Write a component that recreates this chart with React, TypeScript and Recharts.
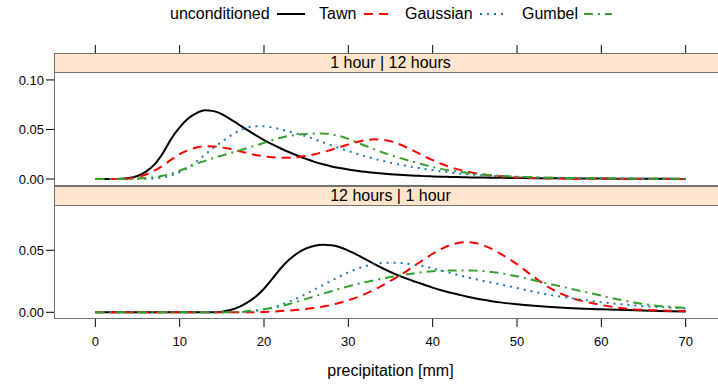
import React from 'react';
import { LineChart, Line, XAxis, YAxis, Label } from 'recharts';

// x grid (mm), shared by every curve
const xs = [
  0, 1, 2, 3, 4, 5, 6, 7, 8, 9, 10, 11, 12, 13, 14, 15, 16, 17, 18, 19, 20,
  21, 22, 23, 24, 25, 26, 27, 28, 29, 30, 31, 32, 33, 34, 35, 36, 37, 38, 39, 40,
  41, 42, 43, 44, 45, 46, 47, 48, 49, 50, 52, 54, 56, 58, 60, 62, 64, 66, 68, 70,
];

// panel "1 hour | 12 hours"
const topUncond = [
  0, 0, 0, 0.0002, 0.001, 0.003, 0.0075, 0.0145, 0.026, 0.0405, 0.052,
  0.061, 0.0665, 0.0693, 0.0685, 0.0655, 0.0605, 0.055, 0.0495, 0.0442, 0.0393,
  0.0349, 0.0308, 0.027, 0.0235, 0.0203, 0.0173, 0.0148, 0.0127, 0.011, 0.0095,
  0.0083, 0.0072, 0.0063, 0.0055, 0.0048, 0.0042, 0.0037, 0.0033, 0.0029, 0.0026,
  0.0023, 0.0021, 0.0019, 0.0017, 0.0015, 0.0014, 0.0013, 0.0012, 0.0011, 0.001,
  0.0008, 0.0007, 0.0006, 0.0005, 0.0004, 0.0003, 0.0003, 0.0002, 0.0002, 0.0001,
];
const topTawn = [
  0, 0, 0, 0, 0.0005, 0.002, 0.0045, 0.0085, 0.0135, 0.0195, 0.025,
  0.0292, 0.0318, 0.033, 0.0328, 0.0318, 0.0302, 0.0282, 0.0262, 0.0243, 0.0229,
  0.0219, 0.0214, 0.0215, 0.0221, 0.0233, 0.025, 0.0271, 0.0295, 0.0321, 0.0348,
  0.0373, 0.0391, 0.04, 0.0397, 0.0381, 0.0353, 0.0315, 0.0273, 0.023, 0.019,
  0.0154, 0.0123, 0.0097, 0.0076, 0.0059, 0.0046, 0.0036, 0.0028, 0.0021, 0.0016,
  0.001, 0.0006, 0.0004, 0.0003, 0.0002, 0.0001, 0.0001, 0.0001, 0.0001, 0.0001,
];
const topGaussian = [
  0, 0, 0, 0, 0, 0, 0.0002, 0.0006, 0.0015, 0.0035, 0.0068,
  0.0113, 0.0175, 0.0245, 0.0315, 0.0375, 0.0435, 0.0485, 0.0518, 0.0533, 0.0533,
  0.052, 0.05, 0.0478, 0.0455, 0.043, 0.0401, 0.037, 0.034, 0.031, 0.0282,
  0.0255, 0.023, 0.0206, 0.0184, 0.0164, 0.0146, 0.013, 0.0116, 0.0102, 0.009,
  0.0078, 0.0067, 0.0057, 0.0049, 0.0042, 0.0037, 0.0032, 0.0028, 0.0024, 0.0021,
  0.0016, 0.0012, 0.0009, 0.0007, 0.0005, 0.0004, 0.0003, 0.0002, 0.0002, 0.0001,
];
const topGumbel = [
  0, 0, 0, 0, 0, 0.0005, 0.001, 0.0018, 0.0032, 0.0053, 0.0083,
  0.0118, 0.0153, 0.0183, 0.021, 0.0236, 0.0261, 0.0286, 0.0311, 0.0337, 0.0365,
  0.0393, 0.0417, 0.0435, 0.0447, 0.0455, 0.0459, 0.0459, 0.0451, 0.0433, 0.0405,
  0.0371, 0.0336, 0.0302, 0.027, 0.0243, 0.0215, 0.019, 0.0166, 0.0143, 0.0121,
  0.0102, 0.0087, 0.0074, 0.0063, 0.0053, 0.0045, 0.0038, 0.0032, 0.0027, 0.0023,
  0.0017, 0.0013, 0.001, 0.0008, 0.0006, 0.0005, 0.0004, 0.0003, 0.0002, 0.0002,
];

// panel "12 hours | 1 hour"
const botUncond = [
  0, 0, 0, 0, 0, 0, 0, 0, 0, 0, 0,
  0, 0, 0, 0, 0.0005, 0.0018, 0.0042, 0.0078, 0.0125, 0.019,
  0.0272, 0.0355, 0.0425, 0.0478, 0.0515, 0.0537, 0.0545, 0.054, 0.0525, 0.0497,
  0.0465, 0.0428, 0.0392, 0.0357, 0.0325, 0.0296, 0.0269, 0.0245, 0.0222, 0.0199,
  0.0178, 0.016, 0.0144, 0.0128, 0.0114, 0.0101, 0.009, 0.008, 0.0072, 0.0065,
  0.0053, 0.0043, 0.0035, 0.0029, 0.0024, 0.002, 0.0016, 0.0012, 0.0009, 0.0006,
];
const botTawn = [
  0, 0, 0, 0, 0, 0, 0, 0, 0, 0, 0,
  0, 0, 0, 0, 0, 0, 0, 0, 0, 0.0003,
  0.0006, 0.001, 0.0014, 0.002, 0.0027, 0.0035, 0.0046, 0.006, 0.0077, 0.0097,
  0.012, 0.0148, 0.018, 0.0215, 0.0253, 0.0293, 0.0336, 0.0382, 0.0428, 0.0472,
  0.051, 0.054, 0.0558, 0.0565, 0.0558, 0.054, 0.0511, 0.0474, 0.0433, 0.0388,
  0.0285, 0.0192, 0.0128, 0.0087, 0.0059, 0.0037, 0.0023, 0.0017, 0.0013, 0.0011,
];
const botGaussian = [
  0, 0, 0, 0, 0, 0, 0, 0, 0, 0, 0,
  0, 0, 0, 0, 0, 0, 0, 0.0005, 0.0011, 0.0022,
  0.0038, 0.006, 0.0086, 0.0116, 0.0149, 0.0184, 0.022, 0.0255, 0.029, 0.0322,
  0.035, 0.0372, 0.0388, 0.0397, 0.04, 0.0398, 0.0392, 0.0382, 0.0369, 0.0354,
  0.0337, 0.0319, 0.0301, 0.0284, 0.0268, 0.0253, 0.0239, 0.0225, 0.0211, 0.0196,
  0.0166, 0.0139, 0.0118, 0.0098, 0.0081, 0.0067, 0.0055, 0.0046, 0.0038, 0.0032,
];
const botGumbel = [
  0, 0, 0, 0, 0, 0, 0, 0, 0, 0, 0,
  0, 0, 0, 0, 0, 0, 0, 0.001, 0.0016, 0.0025,
  0.0036, 0.005, 0.0067, 0.0087, 0.0108, 0.0129, 0.015, 0.017, 0.019, 0.0209,
  0.0226, 0.0242, 0.0257, 0.0271, 0.0284, 0.0296, 0.0307, 0.0317, 0.0325, 0.0331,
  0.0335, 0.0337, 0.0338, 0.0338, 0.0336, 0.0332, 0.0325, 0.0316, 0.0304, 0.029,
  0.0259, 0.0227, 0.0196, 0.0165, 0.0134, 0.0104, 0.0077, 0.0057, 0.0044, 0.0036,
];

const xTicks = [0, 10, 20, 30, 40, 50, 60, 70];
const topYTicks = [0, 0.05, 0.1];
const botYTicks = [0, 0.05];
const panelTitles = ['1 hour | 12 hours', '12 hours | 1 hour'];

const series = [
  { key: 'unconditioned', color: '#000000', dash: undefined },
  { key: 'Tawn', color: '#ff0000', dash: '9 6' },
  { key: 'Gaussian', color: '#1f78b4', dash: '2 5' },
  { key: 'Gumbel', color: '#33a02c', dash: '9 5 2 5' },
];

const topData = xs.map((x, i) => ({
  x,
  unconditioned: topUncond[i],
  Tawn: topTawn[i],
  Gaussian: topGaussian[i],
  Gumbel: topGumbel[i],
}));
const botData = xs.map((x, i) => ({
  x,
  unconditioned: botUncond[i],
  Tawn: botTawn[i],
  Gaussian: botGaussian[i],
  Gumbel: botGumbel[i],
}));

const FONT = '"Liberation Sans", Arial, Helvetica, sans-serif';
const FRAME = '#707070';
const X_DOMAIN: [number, number] = [-4.9, 74.9];
const CHART_W = 740;
const PLOT_L = 54;
const PLOT_W = 673;

const tickStyle = { fontSize: 13, fill: '#000', fontFamily: FONT };

function Strip({ top, text }: { top: number; text: string }) {
  return (
    <div
      style={{
        position: 'absolute',
        left: PLOT_L,
        top,
        width: PLOT_W,
        height: 20,
        boxSizing: 'border-box',
        border: `1px solid ${FRAME}`,
        background: '#ffe5cc',
        fontFamily: FONT,
        fontSize: 16,
        lineHeight: '18px',
        textAlign: 'center',
      }}
    >
      {text}
    </div>
  );
}

function Frame({ top }: { top: number }) {
  return (
    <div
      style={{
        position: 'absolute',
        left: PLOT_L,
        top,
        width: PLOT_W,
        height: 114,
        boxSizing: 'border-box',
        border: `1px solid ${FRAME}`,
        pointerEvents: 'none',
      }}
    />
  );
}

function lines() {
  return series.map((s) => (
    <Line
      key={s.key}
      dataKey={s.key}
      type="monotone"
      stroke={s.color}
      strokeWidth={2}
      strokeDasharray={s.dash}
      dot={false}
      isAnimationActive={false}
    />
  ));
}

const legendText = [170, 319, 405, 522];
const legendLine = [277, 364, 480, 584];

export default function App() {
  return (
    <div
      style={{
        position: 'absolute',
        left: 0,
        top: 0,
        width: 718,
        height: 385,
        overflow: 'hidden',
        background: '#fff',
        fontFamily: FONT,
      }}
    >
      {series.map((s, i) => (
        <React.Fragment key={s.key}>
          <div
            style={{
              position: 'absolute',
              left: legendText[i],
              top: 4,
              fontSize: 16,
              lineHeight: '20px',
              whiteSpace: 'nowrap',
            }}
          >
            {s.key}
          </div>
          <svg
            width={28}
            height={6}
            style={{ position: 'absolute', left: legendLine[i], top: 11 }}
          >
            <line
              x1={0}
              y1={3}
              x2={28}
              y2={3}
              stroke={s.color}
              strokeWidth={2}
              strokeDasharray={s.dash}
            />
          </svg>
        </React.Fragment>
      ))}

      {/* panel 1 */}
      <div style={{ position: 'absolute', left: 0, top: 45 }}>
        <LineChart
          width={CHART_W}
          height={141}
          data={topData}
          margin={{ top: 0, right: CHART_W - PLOT_L - PLOT_W, bottom: 0, left: 0 }}
        >
          <XAxis
            dataKey="x"
            type="number"
            orientation="top"
            domain={X_DOMAIN}
            ticks={xTicks}
            interval={0}
            height={28}
            tickSize={28}
            tick={tickStyle}
            tickFormatter={() => ''}
            axisLine={false}
            tickLine={{ stroke: '#000' }}
            allowDataOverflow
          />
          <YAxis
            type="number"
            domain={[-0.00707, 0.107]}
            ticks={topYTicks}
            interval={0}
            width={PLOT_L}
            tickSize={8}
            tickMargin={2}
            axisLine={false}
            tickLine={{ stroke: '#000' }}
            tick={tickStyle}
            tickFormatter={(v: number) => v.toFixed(2)}
            allowDataOverflow
          />
          {lines()}
        </LineChart>
      </div>
      <Strip top={53} text={panelTitles[0]} />
      <Frame top={72} />

      {/* panel 2 */}
      <div style={{ position: 'absolute', left: 0, top: 186 }}>
        <LineChart
          width={CHART_W}
          height={199}
          data={botData}
          margin={{ top: 20, right: CHART_W - PLOT_L - PLOT_W, bottom: 0, left: 0 }}
        >
          <XAxis
            dataKey="x"
            type="number"
            domain={X_DOMAIN}
            ticks={xTicks}
            interval={0}
            height={66}
            tickSize={8}
            tickMargin={10}
            axisLine={false}
            tickLine={{ stroke: '#000' }}
            tick={tickStyle}
            allowDataOverflow
          >
            <Label
              value="precipitation [mm]"
              position="insideBottom"
              offset={9}
              style={{ fontSize: 16, fill: '#000', fontFamily: FONT }}
            />
          </XAxis>
          <YAxis
            type="number"
            domain={[-0.0054, 0.0857]}
            ticks={botYTicks}
            interval={0}
            width={PLOT_L}
            tickSize={8}
            tickMargin={2}
            axisLine={false}
            tickLine={{ stroke: '#000' }}
            tick={tickStyle}
            tickFormatter={(v: number) => v.toFixed(2)}
            allowDataOverflow
          />
          {lines()}
        </LineChart>
      </div>
      <Strip top={186} text={panelTitles[1]} />
      <Frame top={205} />
    </div>
  );
}
